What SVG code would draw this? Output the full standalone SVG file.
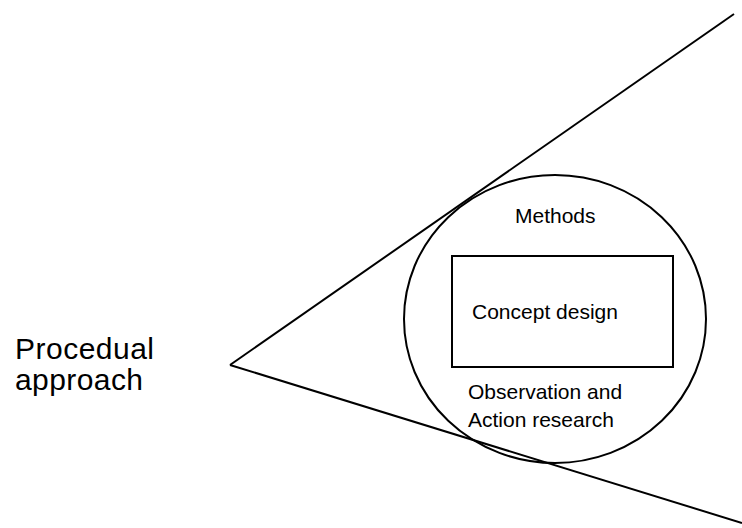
<svg xmlns="http://www.w3.org/2000/svg" width="742" height="528" viewBox="0 0 742 528">
  <style>
    .ln { fill: none; stroke: #000; stroke-width: 2; }
    .t { font-family: "Liberation Sans", Arial, sans-serif; fill: #000; }
    .sm { font-size: 21px; }
    .lg { font-size: 30px; }
  </style>
  <rect width="742" height="528" fill="#fff"/>

  <!-- funnel opening to the right from the apex -->
  <g id="connectors">
    <line class="ln" x1="230" y1="365" x2="734" y2="14"/>
    <line class="ln" x1="230" y1="365" x2="742" y2="523"/>
  </g>

  <g id="procedual-approach">
    <text class="t lg" x="15" y="359" textLength="139">Procedual</text>
    <text class="t lg" x="15" y="390" textLength="128">approach</text>
  </g>

  <g id="methods">
    <ellipse class="ln" cx="555" cy="319" rx="151" ry="144"/>
    <text class="t sm" x="515" y="223">Methods</text>
    <text class="t sm" x="468" y="399">Observation and</text>
    <text class="t sm" x="468" y="427">Action research</text>
  </g>

  <g id="concept-design">
    <rect class="ln" x="452" y="256" width="221" height="111"/>
    <text class="t sm" x="472" y="319">Concept design</text>
  </g>
</svg>
